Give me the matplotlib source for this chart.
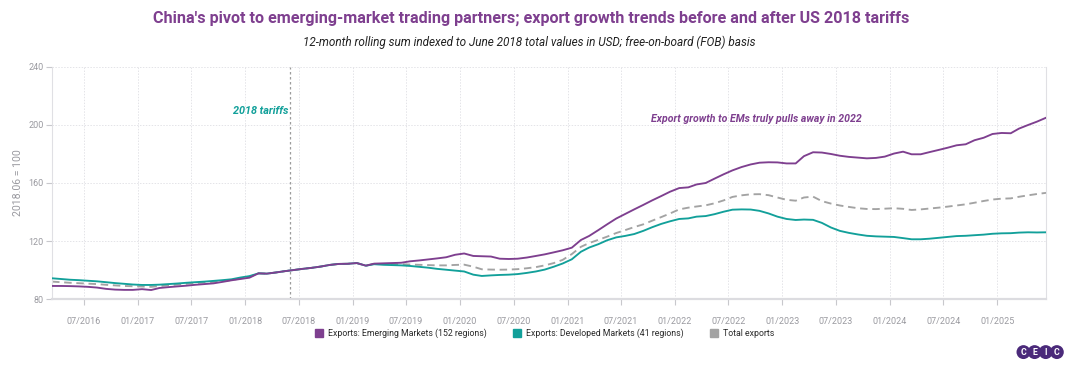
import pandas as pd
import numpy as np
import matplotlib.pyplot as plt
import matplotlib.dates as mdates
from matplotlib.patches import Patch

plt.rcParams['font.family'] = ['Roboto', 'DejaVu Sans']

# ---------------------------
# Data: 12-month rolling sums, June 2018 = 100 (monthly, Mar 2016 - Jun 2025)
# ---------------------------
months = pd.date_range("2016-03-01", "2025-06-01", freq="MS") + pd.Timedelta(days=14)

emerging = [
    89.0, 89.0, 88.9, 88.7, 88.4, 87.9, 87.0, 86.5, 86.3, 86.3,
    86.8, 86.2, 87.6, 88.2, 88.7, 89.2, 89.8, 90.3, 90.8, 91.8,
    92.9, 93.8, 94.7, 97.7, 97.5, 98.3, 99.2, 100.0, 100.8, 101.5,
    102.4, 103.5, 104.2, 104.3, 104.8, 103.0, 104.4, 104.6, 104.8, 105.0,
    106.0, 106.6, 107.3, 108.0, 108.8, 110.5, 111.4, 109.7, 109.5, 109.3,
    107.8, 107.6, 107.8, 108.6, 109.7, 110.8, 112.2, 113.6, 115.4, 120.7,
    123.5, 127.5, 131.5, 135.5, 138.6, 141.8, 144.9, 148.0, 151.0, 154.0,
    156.5, 157.0, 159.0, 160.0, 163.0, 166.0, 168.7, 171.0, 172.8, 174.0,
    174.3, 174.2, 173.5, 173.5, 178.5, 181.2, 181.0, 180.0, 178.8, 178.0,
    177.5, 177.0, 177.3, 178.2, 180.3, 181.6, 179.8, 179.8, 181.3, 182.8,
    184.3, 186.0, 186.7, 189.5, 191.2, 193.8, 194.5, 194.3, 197.5, 200.0,
    202.3, 205.0,
]

developed = [
    94.3, 93.8, 93.3, 93.0, 92.6, 92.2, 91.6, 91.0, 90.5, 90.0,
    89.7, 89.7, 89.9, 90.3, 90.7, 91.2, 91.6, 92.0, 92.5, 93.0,
    93.6, 94.8, 95.8, 97.7, 97.5, 98.3, 99.2, 100.0, 100.8, 101.5,
    102.4, 103.5, 104.2, 104.3, 104.8, 103.0, 104.0, 103.6, 103.4, 103.2,
    102.8, 102.2, 101.6, 100.8, 100.2, 99.6, 99.0, 96.8, 95.9, 96.3,
    96.6, 96.8, 97.2, 98.0, 99.0, 100.3, 102.3, 104.5, 107.4, 112.6,
    115.5, 117.8, 120.5, 122.5, 123.5, 124.8, 127.0, 129.5, 131.8, 133.6,
    135.2, 135.6, 136.8, 137.2, 138.5, 140.2, 141.6, 141.8, 141.7, 140.8,
    139.0, 136.8, 135.2, 134.5, 134.8, 134.6, 132.5, 129.3, 127.0, 125.6,
    124.5, 123.6, 123.2, 123.0, 122.8, 122.0, 121.2, 121.2, 121.6, 122.2,
    122.8, 123.4, 123.6, 124.0, 124.4, 125.0, 125.3, 125.4, 125.8, 126.0,
    125.9, 126.0,
]

total = [
    92.0, 91.6, 91.2, 90.9, 90.6, 90.3, 89.8, 89.4, 89.0, 88.8,
    88.6, 88.4, 88.9, 89.5, 90.0, 90.5, 91.0, 91.4, 91.8, 92.4,
    93.0, 94.2, 95.2, 97.7, 97.5, 98.3, 99.2, 100.0, 100.8, 101.5,
    102.4, 103.5, 104.2, 104.3, 104.8, 103.0, 104.2, 104.1, 104.0, 104.0,
    103.8, 103.6, 103.4, 103.2, 103.2, 103.5, 103.7, 102.3, 100.5, 100.3,
    100.2, 100.3, 100.6, 101.2, 102.0, 103.2, 104.8, 107.0, 111.0, 116.0,
    118.6, 120.8, 123.0, 125.5, 127.5, 129.6, 131.5, 134.0, 136.5, 139.0,
    141.8, 143.0, 143.8, 144.6, 146.0, 148.0, 150.4, 151.5, 152.2, 152.3,
    151.6, 150.0, 148.4, 147.8, 150.0, 150.6, 147.5, 145.8, 144.5, 143.5,
    142.6, 142.1, 142.0, 142.3, 142.6, 142.2, 141.4, 141.8, 142.4, 143.0,
    143.7, 144.5, 145.3, 146.4, 147.6, 148.6, 149.2, 149.4, 150.5, 151.5,
    152.4, 153.2,
]

labels = [
    "Exports: Emerging Markets (152 regions)",
    "Exports: Developed Markets (41 regions)",
    "Total exports",
]

PURPLE = "#7e3f8f"
TEAL = "#12a09a"
GREY = "#a3a3a3"
AXIS_GREY = "#9a9aa0"

# ---------------------------
# Plot
# ---------------------------
fig = plt.figure(figsize=(10.7, 3.66), dpi=100)
ax = fig.add_axes([0.0486, 0.183, 0.929, 0.634])

ax.plot(months, emerging, color=PURPLE, lw=1.35, zorder=4)
ax.plot(months, developed, color=TEAL, lw=1.35, zorder=3)
ax.plot(months, total, color=GREY, lw=1.35, ls=(0, (4, 2.5)), zorder=2)

# tariff marker
tariff_date = pd.Timestamp("2018-06-01")
ax.axvline(tariff_date, color="#9c9c9c", lw=0.9, ls=(0, (2, 2)), zorder=1)
ax.text(tariff_date - pd.Timedelta(days=6), 209.5, "2018 tariffs", color=TEAL,
        fontsize=7.8, fontweight="bold", fontstyle="italic", ha="right", va="center")
ax.text(pd.Timestamp("2022-10-05"), 204.3, "Export growth to EMs truly pulls away in 2022",
        color=PURPLE, fontsize=7.6, fontweight="bold", fontstyle="italic",
        ha="center", va="center")

ax.set_xlim(months[0], months[-1])
ax.set_ylim(80, 240)
ax.set_yticks([80, 120, 160, 200, 240])

ax.xaxis.set_major_locator(mdates.MonthLocator(bymonth=[1, 7]))
ax.xaxis.set_major_formatter(mdates.DateFormatter("%m/%Y"))

ax.tick_params(axis="x", colors="#c8c8cc", labelcolor=AXIS_GREY, labelsize=6.5,
               length=4, width=0.8, pad=9)
ax.tick_params(axis="y", colors="#c8c8cc", labelcolor=AXIS_GREY, labelsize=6.5,
               length=4, width=0.8, pad=2)

ax.grid(True, color="#e4e4e8", lw=0.7, ls=(0, (1.5, 1.5)))
ax.set_axisbelow(True)

for side in ["left", "right"]:
    ax.spines[side].set_color("#e0e0e4")
    ax.spines[side].set_linewidth(0.8)
ax.spines["bottom"].set_color("#dcdce0")
ax.spines["bottom"].set_linewidth(1.6)
ax.spines["top"].set_visible(False)

ax.set_ylabel("2018.06 = 100", color=AXIS_GREY, fontsize=7.6, labelpad=4)

# titles
fig.text(0.496, 0.951, "China's pivot to emerging-market trading partners; export growth trends before and after US 2018 tariffs",
         ha="center", va="center", color=PURPLE, fontsize=11.6, fontweight="bold")
fig.text(0.495, 0.885, "12-month rolling sum indexed to June 2018 total values in USD; free-on-board (FOB) basis",
         ha="center", va="center", color="#222222", fontsize=8.5, fontstyle="italic")

# legend
handles = [Patch(facecolor=c, edgecolor=c) for c in [PURPLE, TEAL, GREY]]
fig.legend(handles, labels, loc="center", bbox_to_anchor=(0.509, 0.09), ncol=3,
           frameon=False, fontsize=6.3, handlelength=0.9, handleheight=1.1,
           handletextpad=0.6, columnspacing=3.0, labelcolor="#2a2a2a")

# CEIC badge
for i, ch in enumerate("CEIC"):
    fig.text(0.9565 + i * 0.0104, 0.038, ch, ha="center", va="center", color="white",
             fontsize=6.3, fontweight="bold",
             bbox=dict(boxstyle="circle,pad=0.28", facecolor="#4b2a7a", edgecolor="none"))

fig.savefig("out.png", dpi=100)
